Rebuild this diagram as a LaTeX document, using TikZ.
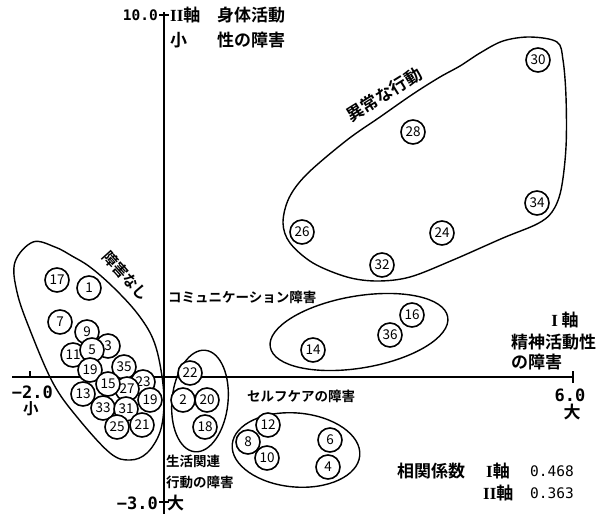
\documentclass[tikz,border=0pt]{standalone}
\usepackage{fontspec}
\newfontfamily\jp{Noto Sans CJK JP}[BoldFont={* Bold}]
\newfontfamily\mono{DejaVu Sans Mono}
\newfontfamily\rmn{Liberation Serif}
\tikzset{
  num/.style={circle, draw, fill=white, line width=1.6pt, minimum size=24pt, inner sep=0pt,
    font=\jp\fontsize{13.5}{14}\selectfont},
  encl/.style={line width=1.4pt},
  axisline/.style={line width=1.3pt},
  big/.style={inner sep=0pt, font=\jp\bfseries\fontsize{17}{18}\selectfont},
  small/.style={inner sep=0pt, font=\jp\bfseries\fontsize{13.5}{14}\selectfont},
  axnum/.style={inner sep=0pt, font=\mono\bfseries\fontsize{17}{18}\selectfont},
  coef/.style={inner sep=0pt, font=\mono\fontsize{14.5}{15}\selectfont},
}
\newcommand{\rn}[1]{{\rmn\bfseries #1}}
\begin{document}
\begin{tikzpicture}[x=1pt,y=-1pt]
\useasboundingbox[fill=white] (0,0) rectangle (604,514);

% axes
\coordinate (ytop) at (164,12);
\coordinate (ybot) at (164,514);
\coordinate (xl) at (12,377);
\coordinate (xr) at (573,377);
\draw[axisline] (ytop) -- (ybot);
\draw[axisline] (xl) -- (xr);
\coordinate (t10a) at (159,15); \coordinate (t10b) at (169,15);
\draw[axisline] (t10a) -- (t10b);
\coordinate (t3a) at (159,502); \coordinate (t3b) at (169,502);
\draw[axisline] (t3a) -- (t3b);
\coordinate (t2a) at (30,371); \coordinate (t2b) at (30,377);
\draw[axisline] (t2a) -- (t2b);
\coordinate (t6a) at (573,371); \coordinate (t6b) at (573,383);
\draw[axisline] (t6a) -- (t6b);

% enclosures
\draw[encl] plot[smooth cycle, tension=0.6] coordinates {
 (15,262) (33,242) (55,247) (72,256) (90,267) (113,287) (137,313) (153,339) (161,370) (164,403)
 (160,432) (147,453) (130,460) (110,453) (77,417) (53,383) (30,330) (17,292)};
\draw[encl] plot[smooth cycle, tension=0.55] coordinates {
 (557,42) (530,37) (503,41) (480,53) (460,66) (440,77) (413,94) (380,117) (347,140)
 (307,174) (289,198) (283,223) (290,243) (313,263) (347,277) (377,281) (410,277)
 (453,260) (503,238) (537,224) (552,212) (561,190) (566,147) (566,97) (563,60)};
\coordinate (cc) at (359,332);
\draw[encl, rotate around={9.6:(cc)}] (cc) ellipse [x radius=90pt, y radius=36pt];
\coordinate (cs) at (296,450);
\draw[encl, rotate around={-5:(cs)}] (cs) ellipse [x radius=64pt, y radius=37pt];
\coordinate (cl) at (200,401);
\draw[encl, rotate around={-6:(cl)}] (cl) ellipse [x radius=28pt, y radius=51pt];

% circles: no-disorder group
\node[num] (n17) at (57,280) {17};
\node[num] (n1) at (89,288) {1};
\node[num] (n7) at (60,322) {7};
\node[num] (n9) at (87,332) {9};
\node[num] (n11) at (73,355) {11};
\node[num] (n3) at (108,346) {3};
\node[num] (n5) at (92,350) {5};
\node[num] (n19a) at (90,370) {19};
\node[num] (n35) at (124,367) {35};
\node[num] (n13) at (83,394) {13};
\node[num] (n23) at (143,382) {23};
\node[num] (n19b) at (150,400) {19};
\node[num] (n27) at (127,389) {27};
\node[num] (n15) at (108,384) {15};
\node[num] (n33) at (103,408) {33};
\node[num] (n31) at (126,409) {31};
\node[num] (n25) at (117,427) {25};
\node[num] (n21) at (142,425) {21};
% living
\node[num] (n22) at (190,373) {22};
\node[num] (n2) at (183,400) {2};
\node[num] (n20) at (207,400) {20};
\node[num] (n18) at (205,427) {18};
% self care
\node[num] (n12) at (268,425) {12};
\node[num] (n8) at (248,442) {8};
\node[num] (n10) at (267,458) {10};
\node[num] (n6) at (330,440) {6};
\node[num] (n4) at (328,467) {4};
% communication
\node[num] (n16) at (412,315) {16};
\node[num] (n36) at (390,335) {36};
\node[num] (n14) at (313,350) {14};
% abnormal behaviour
\node[num] (n30) at (538,60) {30};
\node[num] (n28) at (413,132) {28};
\node[num] (n26) at (302,232) {26};
\node[num] (n32) at (382,265) {32};
\node[num] (n24) at (442,233) {24};
\node[num] (n34) at (537,203) {34};

% labels
\node[axnum, anchor=east, font=\mono\bfseries\fontsize{14.5}{15}\selectfont] (l10) at (158,15) {10.0};
\node[big, anchor=west] (lax2) at (170,15) {\rn{II}軸};
\node[big, anchor=west] (lax2a) at (217,15) {身体活動};
\node[big, anchor=west] (lsmall1) at (170,40) {小};
\node[big, anchor=west] (lax2b) at (217,40) {性の障害};
\node[axnum, anchor=east] (lm2) at (53,392) {−2.0};
\node[big, font=\jp\bfseries\fontsize{15.5}{16}\selectfont] (lsmall2) at (31,409) {小};
\node[axnum] (l6) at (570,395) {6.0};
\node[big] (llarge1) at (572,412) {大};
\node[axnum, anchor=east] (lm3) at (158,503) {−3.0};
\node[big, anchor=west] (llarge2) at (167,503) {大};
\node[big] (lax1) at (565,320) {\rn{I} 軸};
\node[big, anchor=west] (lax1a) at (511,342) {精神活動性};
\node[big, anchor=west] (lax1b) at (511,362) {の障害};
\node[small, anchor=west] (lcomm) at (168,297) {コミュニケーション障害};
\node[small, anchor=west] (lself) at (247,396) {セルフケアの障害};
\node[small, anchor=west] (lliv1) at (166,461) {生活関連};
\node[small, anchor=west] (lliv2) at (166,482) {行動の障害};
\node[big, rotate=-48, font=\jp\bfseries\fontsize{15}{16}\selectfont] (lnone) at (126,276) {障害なし};
\node[big, rotate=32] (labn) at (384,95) {異常な行動};
\node[big, anchor=west] (lcoef) at (397,471) {相関係数};
\node[big, anchor=west] (lc1) at (486,471) {\rn{I}軸};
\node[coef, anchor=west] (lc1v) at (530,471) {0.468};
\node[big, anchor=west] (lc2) at (483,493) {\rn{II}軸};
\node[coef, anchor=west] (lc2v) at (530,493) {0.363};
\end{tikzpicture}
\end{document}
